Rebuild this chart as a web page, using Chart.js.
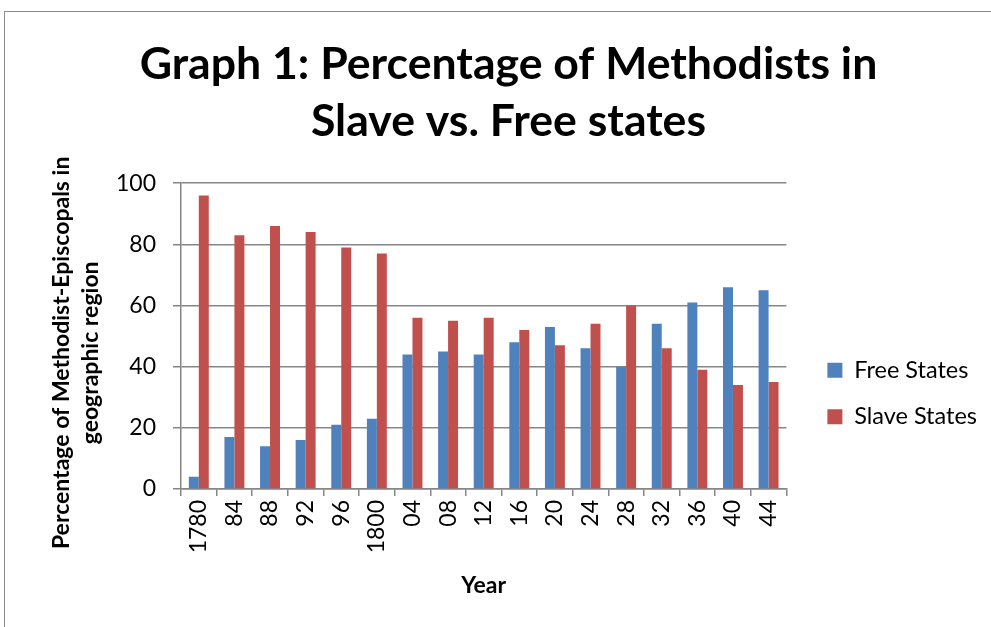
<!DOCTYPE html>
<html>
<head>
<meta charset="utf-8">
<script src="https://cdn.jsdelivr.net/npm/chart.js@4.4.1/dist/chart.umd.min.js"></script>
<style>
  html, body { margin: 0; padding: 0; background: #fff; overflow: hidden; }
  #frame { position: absolute; left: 4px; top: 11px; width: 1100px; height: 800px; border: 1.5px solid #8a8a8a; }
  #wrap { position: absolute; left: 0; top: 0; width: 991px; height: 627px; }
</style>
</head>
<body>
<div id="frame"></div>
<div id="wrap"><canvas id="chart" width="991" height="627"></canvas></div>
<script>
// Años (etiquetas del eje X)
const years = ['1780', '84', '88', '92', '96', '1800', '04', '08', '12', '16', '20', '24', '28', '32', '36', '40', '44'];
// Porcentajes
const freeStates = [4, 17, 14, 16, 21, 23, 44, 45, 44, 48, 53, 46, 40, 54, 61, 66, 65];
const slaveStates = [96, 83, 86, 84, 79, 77, 56, 55, 56, 52, 47, 54, 60, 46, 39, 34, 35];
const yTicks = [0, 20, 40, 60, 80, 100];

const FONT = 'Lato, "Liberation Sans", sans-serif';

// Desplaza la leyenda un poco a la derecha, como en el original
const legendShift = {
    id: 'legendShift',
    afterLayout(chart) {
        chart.legend.left += 18;
        chart.legend.right += 18;
    }
};

new Chart(document.getElementById('chart'), {
    type: 'bar',
    data: {
        labels: years,
        datasets: [{
            label: 'Free States',
            data: freeStates,
            backgroundColor: '#4F81BD',
            borderWidth: 0
        }, {
            label: 'Slave States',
            data: slaveStates,
            backgroundColor: '#C0504D',
            borderWidth: 0
        }]
    },
    plugins: [legendShift],
    options: {
        responsive: false,
        animation: false,
        layout: { padding: { left: 48, right: 22, top: 0, bottom: 0 } },
        categoryPercentage: 0.56,
        barPercentage: 1,
        scales: {
            x: {
                grid: { offset: true, drawOnChartArea: false, drawTicks: true, tickLength: 7, color: '#868686', lineWidth: 1.5 },
                border: { color: '#868686', width: 1.5 },
                ticks: { color: '#000', font: { family: FONT, size: 23 }, maxRotation: 90, minRotation: 90, padding: 4, autoSkip: false },
                title: { display: true, text: 'Year', color: '#000', font: { family: FONT, size: 23, weight: 'bold', lineHeight: 1.2 }, padding: { top: 0, bottom: 28 } },
                afterFit: (scale) => { scale.height = 138; }
            },
            y: {
                min: 0,
                max: 100,
                afterBuildTicks: (scale) => { scale.ticks = yTicks.map(v => ({ value: v })); },
                grid: { drawTicks: true, tickLength: 8, color: '#868686', lineWidth: 1.5 },
                border: { color: '#868686', width: 1.5 },
                ticks: { color: '#000', font: { family: FONT, size: 23 }, padding: 17 },
                title: {
                    display: true,
                    text: ['Percentage of Methodist-Episcopals in      ', 'geographic region      '],
                    color: '#000',
                    font: { family: FONT, size: 23, weight: 'bold', lineHeight: 1.22 },
                    padding: 0
                },
                afterFit: (scale) => { scale.width = 133; }
            }
        },
        plugins: {
            title: {
                display: true,
                text: ['Graph 1: Percentage of Methodists in', 'Slave vs. Free states'],
                color: '#000',
                font: { family: FONT, size: 44.6, weight: 'bold', lineHeight: 1.28 },
                padding: { top: 36, bottom: 33 }
            },
            legend: {
                position: 'right',
                labels: {
                    boxWidth: 15,
                    boxHeight: 15,
                    color: '#000',
                    font: { family: FONT, size: 23.5 },
                    padding: 23
                },
                title: { display: true, text: ' ', padding: { top: 0, bottom: 136 }, font: { size: 20 } }
            },
            tooltip: { enabled: false }
        }
    }
});
</script>
</body>
</html>
